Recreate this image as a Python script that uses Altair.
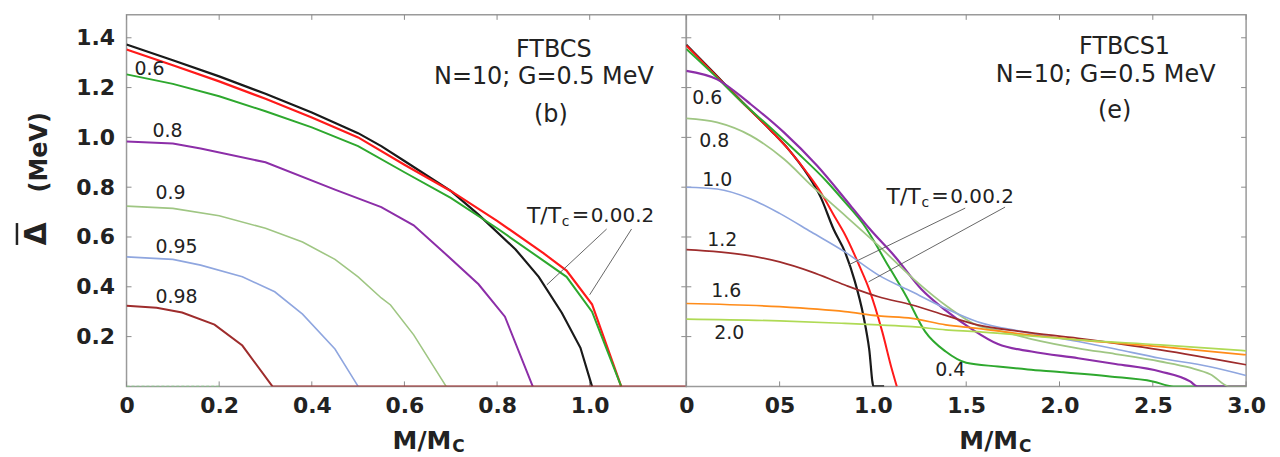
import altair as alt
import pandas as pd

# ---------------- data: left panel (FTBCS) ----------------
L00_x = [0, 0.1, 0.2, 0.3, 0.4, 0.5, 0.55, 0.6, 0.7, 0.76, 0.84, 0.89, 0.94, 0.98, 1.005]
L00_y = [1.373, 1.31, 1.245, 1.175, 1.1, 1.017, 0.965, 0.905, 0.785, 0.69, 0.55, 0.44, 0.295, 0.155, 0.0]
L02_x = [0, 0.1, 0.2, 0.3, 0.4, 0.5, 0.6, 0.7, 0.8, 0.9, 0.95, 1.005, 1.068]
L02_y = [1.353, 1.29, 1.225, 1.155, 1.08, 1.0, 0.89, 0.785, 0.665, 0.535, 0.465, 0.33, 0.0]
L06_x = [0, 0.1, 0.2, 0.3, 0.4, 0.5, 0.6, 0.7, 0.8, 0.9, 0.95, 1.005, 1.068]
L06_y = [1.253, 1.215, 1.165, 1.105, 1.04, 0.965, 0.86, 0.757, 0.635, 0.505, 0.44, 0.30, 0.0]
L08_x = [0, 0.1, 0.16, 0.3, 0.45, 0.55, 0.62, 0.69, 0.76, 0.817, 0.877]
L08_y = [0.983, 0.975, 0.955, 0.9, 0.79, 0.72, 0.647, 0.53, 0.41, 0.28, 0.0]
L09_x = [0, 0.1, 0.2, 0.3, 0.38, 0.45, 0.5, 0.55, 0.57, 0.62, 0.69]
L09_y = [0.724, 0.715, 0.685, 0.635, 0.58, 0.51, 0.44, 0.355, 0.327, 0.207, 0.0]
L095_x = [0, 0.1, 0.16, 0.25, 0.32, 0.38, 0.45, 0.5]
L095_y = [0.52, 0.51, 0.487, 0.44, 0.38, 0.29, 0.15, 0.0]
L098_x = [0, 0.065, 0.12, 0.19, 0.25, 0.315, 1.21]
L098_y = [0.324, 0.316, 0.297, 0.248, 0.164, 0.0, 0.0]
LDASH_x = [0, 0.2]
LDASH_y = [0.0, 0.0]

# ---------------- data: right panel (FTBCS1) ----------------
R00_x = [0, 0.15, 0.3, 0.45, 0.55, 0.65, 0.72, 0.79, 0.85, 0.9, 0.95, 0.98, 1.003, 1.06]
R00_y = [1.372, 1.257, 1.142, 1.03, 0.95, 0.85, 0.76, 0.63, 0.54, 0.43, 0.28, 0.15, 0.0, 0.0]
R02_x = [0, 0.15, 0.3, 0.45, 0.55, 0.65, 0.72, 0.8, 0.85, 0.93, 0.98, 1.05, 1.1, 1.128]
R02_y = [1.369, 1.255, 1.14, 1.03, 0.95, 0.855, 0.78, 0.675, 0.61, 0.48, 0.39, 0.22, 0.073, 0.0]
R04_x = [0, 0.15, 0.3, 0.45, 0.6, 0.75, 0.85, 0.95, 1.07, 1.18, 1.28, 1.39, 1.5, 1.67, 1.83, 2.0, 2.27, 2.5, 2.61, 3.0]
R04_y = [1.355, 1.25, 1.14, 1.04, 0.935, 0.825, 0.74, 0.65, 0.5, 0.36, 0.22, 0.14, 0.095, 0.08, 0.068, 0.058, 0.04, 0.02, 0.0, 0.0]
R06_x = [0, 0.165, 0.345, 0.523, 0.7, 0.879, 0.98, 1.12, 1.26, 1.39, 1.53, 1.67, 1.85, 2.1, 2.3, 2.54, 2.7, 2.74, 3.0]
R06_y = [1.267, 1.233, 1.133, 1.02, 0.887, 0.727, 0.635, 0.52, 0.39, 0.305, 0.23, 0.17, 0.14, 0.113, 0.09, 0.06, 0.02, 0.0, 0.0]
R08_x = [0, 0.165, 0.345, 0.523, 0.68, 0.86, 1.03, 1.22, 1.4, 1.56, 1.67, 1.85, 2.1, 2.3, 2.54, 2.7, 2.81, 2.91, 3.0]
R08_y = [1.076, 1.06, 1.007, 0.913, 0.80, 0.68, 0.565, 0.43, 0.32, 0.245, 0.225, 0.19, 0.153, 0.13, 0.10, 0.075, 0.048, 0.0, 0.0]
R10_x = [0, 0.165, 0.345, 0.5, 0.67, 0.85, 1.03, 1.21, 1.39, 1.56, 1.8, 2.1, 2.3, 2.54, 2.8, 3.0]
R10_y = [0.80, 0.793, 0.753, 0.695, 0.62, 0.54, 0.447, 0.38, 0.313, 0.26, 0.22, 0.18, 0.15, 0.113, 0.08, 0.044]
R12_x = [0, 0.32, 0.5, 0.67, 0.85, 1.03, 1.21, 1.39, 1.56, 1.8, 2.1, 2.54, 3.0]
R12_y = [0.549, 0.527, 0.50, 0.46, 0.407, 0.36, 0.327, 0.285, 0.247, 0.22, 0.193, 0.147, 0.087]
R16_x = [0, 0.5, 0.85, 1.03, 1.21, 1.39, 1.56, 1.8, 2.1, 2.54, 3.0]
R16_y = [0.333, 0.32, 0.30, 0.283, 0.273, 0.247, 0.233, 0.21, 0.187, 0.16, 0.127]
R20_x = [0, 0.5, 0.85, 1.03, 1.21, 1.39, 1.56, 1.8, 2.1, 2.54, 3.0]
R20_y = [0.27, 0.263, 0.253, 0.247, 0.24, 0.227, 0.22, 0.205, 0.187, 0.167, 0.143]

# ---------------- axis tick values / labels ----------------
YTICKS = [0.2, 0.4, 0.6, 0.8, 1.0, 1.2, 1.4]
XL_TICKS = [0, 0.2, 0.4, 0.6, 0.8, 1.0]
XR_TICKS = [0, 0.5, 1.0, 1.5, 2.0, 2.5, 3.0]

# ---------------- styling ----------------
FONT = "DejaVu Sans"
TXT = "#222222"
W, H = 562, 373
YMAX = 1.492
XL_MAX = 1.2086
XR_MAX = 3.0

C_BLACK = "#1a1a1a"
C_RED = "#ff1a1a"
C_GREEN = "#2ea82e"
C_PURPLE = "#8c2ea8"
C_OLIVE = "#9fc683"
C_BLUE = "#8fa6df"
C_DRED = "#9e2c2c"
C_ORANGE = "#ff8c1a"
C_YGREEN = "#afda55"

ysc = alt.Scale(domain=[0, YMAX], nice=False, zero=False)
xLsc = alt.Scale(domain=[0, XL_MAX], nice=False, zero=False)
xRsc = alt.Scale(domain=[0, XR_MAX], nice=False, zero=False)

ax_common = dict(title=None, ticks=False, domain=False, grid=False, labelFont=FONT,
                 labelFontSize=22, labelFontWeight="bold", labelColor=TXT,
                 labelOverlap=False, labelFlush=False)

xL_enc = alt.X("x:Q", scale=xLsc, axis=alt.Axis(
    values=XL_TICKS, labelPadding=9,
    labelExpr="datum.value == 0 ? '0' : format(datum.value, '.1f')", **ax_common))
xR_enc = alt.X("x:Q", scale=xRsc, axis=alt.Axis(
    values=XR_TICKS, labelPadding=9,
    labelExpr="datum.value == 0 ? '0' : (datum.value == 0.5 ? '05' : format(datum.value, '.1f'))",
    **ax_common))
yL_enc = alt.Y("y:Q", scale=ysc, axis=alt.Axis(values=YTICKS, format=".1f", labelPadding=12, **ax_common))
yR_enc = alt.Y("y:Q", scale=ysc, axis=None)

one = pd.DataFrame({"a": [0]})


def line(xs, ys, color, width, xenc, yenc, interp="linear", dash=None):
    kw = dict(color=color, strokeWidth=width, interpolate=interp, clip=True)
    if dash:
        kw["strokeDash"] = dash
    return alt.Chart(pd.DataFrame({"x": xs, "y": ys})).mark_line(**kw).encode(x=xenc, y=yenc)


def text(s, x, y, size, align="left", weight="normal", angle=0):
    return alt.Chart(one).mark_text(text=s, font=FONT, fontSize=size, fontWeight=weight,
                                    align=align, baseline="middle", color=TXT,
                                    angle=angle).encode(x=alt.value(x), y=alt.value(y))


def seg(x1, y1, x2, y2, color="#555555", width=0.9):
    return alt.Chart(one).mark_rule(color=color, strokeWidth=width).encode(
        x=alt.value(x1), y=alt.value(y1), x2=alt.value(x2), y2=alt.value(y2))


def tick_layers(xticks, xenc, yenc):
    dx = pd.DataFrame({"x": xticks})
    dy = pd.DataFrame({"y": YTICKS})
    st = dict(color="#8a8a8a", strokeWidth=1)
    return [
        alt.Chart(dx).mark_rule(**st).encode(x=xenc, y=alt.value(H), y2=alt.value(H - 5)),
        alt.Chart(dx).mark_rule(**st).encode(x=xenc, y=alt.value(0), y2=alt.value(5)),
        alt.Chart(dy).mark_rule(**st).encode(y=yenc, x=alt.value(0), x2=alt.value(5)),
        alt.Chart(dy).mark_rule(**st).encode(y=yenc, x=alt.value(W), x2=alt.value(W - 5)),
    ]


def tc_label(x0, y0):
    return [
        text("T/T", x0, y0, 22),
        text("c", x0 + 35, y0 + 6, 14),
        text("=", x0 + 45, y0, 21),
        text("0.0", x0 + 64, y0, 20),
        text("0.2", x0 + 96, y0, 20),
    ]


def mtitle(xr):
    return [text("M/M", xr, 428, 25, align="right", weight="bold"),
            text("C", xr + 1, 434, 17, weight="bold")]


# ---------------- left panel ----------------
left_layers = tick_layers(XL_TICKS, xL_enc, yL_enc) + [
    line(LDASH_x, LDASH_y, "#7fcf7f", 1.4, xL_enc, yL_enc, dash=[3, 2]),
    line(L095_x, L095_y, C_BLUE, 1.6, xL_enc, yL_enc),
    line(L09_x, L09_y, C_OLIVE, 1.6, xL_enc, yL_enc),
    line(L08_x, L08_y, C_PURPLE, 2.0, xL_enc, yL_enc),
    line(L00_x, L00_y, C_BLACK, 2.2, xL_enc, yL_enc),
    line(L02_x, L02_y, C_RED, 2.2, xL_enc, yL_enc),
    line(L06_x, L06_y, C_GREEN, 2.0, xL_enc, yL_enc),
    line(L098_x, L098_y, C_DRED, 2.0, xL_enc, yL_enc),
    text("0.6", 8, 54, 19),
    text("0.8", 26, 117, 19),
    text("0.9", 29, 179, 19),
    text("0.95", 29, 233, 19),
    text("0.98", 29, 283, 19),
    text("FTBCS", 429, 35, 24, align="center"),
    text("N=10; G=0.5 MeV", 419, 62, 24, align="center"),
    text("(b)", 426, 101, 24, align="center"),
    seg(482, 215, 422, 271),
    seg(507, 215, 465, 281),
    text("\u0394", -90, 220, 30, align="center", weight="bold", angle=270),
    seg(-110, 209, -110, 231, color=TXT, width=2.5),
    text("(MeV)", -87, 138, 24, align="center", weight="bold", angle=270),
] + tc_label(402, 202) + mtitle(326)

left = alt.layer(*left_layers).properties(width=W, height=H)

# ---------------- right panel ----------------
right_layers = tick_layers(XR_TICKS, xR_enc, yR_enc) + [
    line(R00_x, R00_y, C_BLACK, 2.2, xR_enc, yR_enc, "monotone"),
    line(R02_x, R02_y, C_RED, 2.0, xR_enc, yR_enc, "monotone"),
    line(R04_x, R04_y, C_GREEN, 2.0, xR_enc, yR_enc, "monotone"),
    line(R06_x, R06_y, C_PURPLE, 2.2, xR_enc, yR_enc, "monotone"),
    line(R08_x, R08_y, C_OLIVE, 1.8, xR_enc, yR_enc, "monotone"),
    line(R10_x, R10_y, C_BLUE, 1.6, xR_enc, yR_enc, "monotone"),
    line(R12_x, R12_y, C_DRED, 1.7, xR_enc, yR_enc, "monotone"),
    line(R16_x, R16_y, C_ORANGE, 1.7, xR_enc, yR_enc, "monotone"),
    line(R20_x, R20_y, C_YGREEN, 1.7, xR_enc, yR_enc, "monotone"),
    text("0.6", 6, 83, 19),
    text("0.8", 13, 127, 19),
    text("1.0", 16, 166, 19),
    text("1.2", 21, 226, 19),
    text("1.6", 25, 277, 19),
    text("2.0", 28, 319, 19),
    text("0.4", 250, 357, 19),
    text("FTBCS1", 440, 32, 24, align="center"),
    text("N=10; G=0.5 MeV", 421, 60, 24, align="center"),
    text("(e)", 430, 97, 24, align="center"),
    seg(280, 194, 163, 251),
    seg(320, 193, 183, 268),
] + tc_label(201, 183) + mtitle(333)

right = alt.layer(*right_layers).properties(width=W, height=H)

chart = alt.hconcat(left, right, spacing=0, bounds="flush").configure_view(
    stroke="#9a9a9a", strokeWidth=1.5
).properties(padding={"left": 7, "top": 4, "right": 5, "bottom": 5}, background="white")

chart.save("out.html", embed_options={"renderer": "svg", "actions": False})
